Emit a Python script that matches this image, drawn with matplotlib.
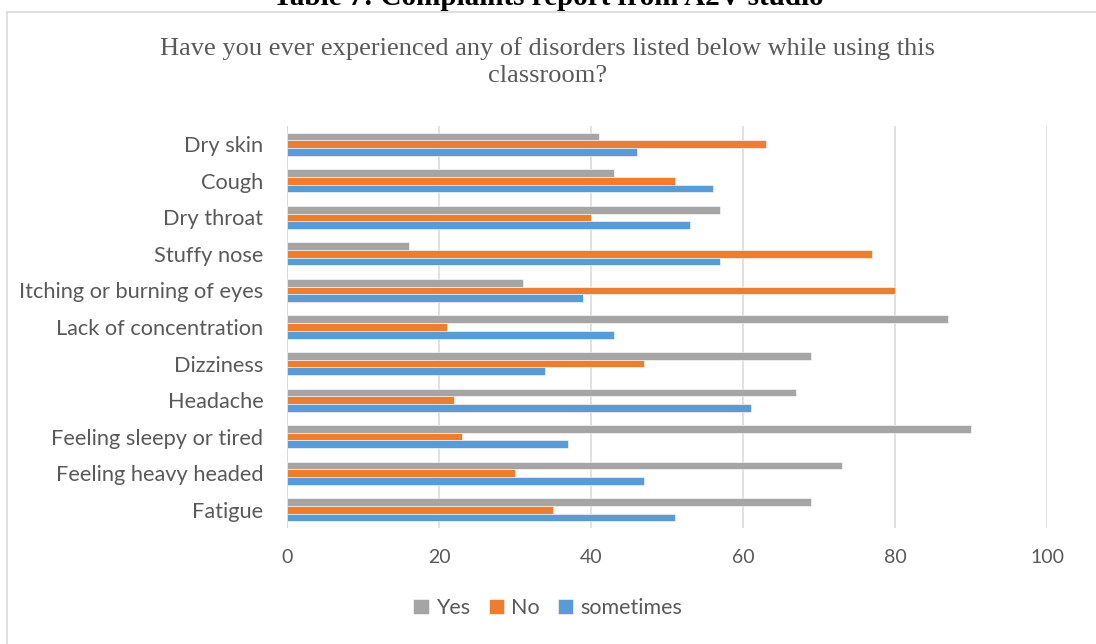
import numpy as np
import matplotlib.pyplot as plt
from matplotlib.patches import Rectangle

symptoms = ['Dry skin', 'Cough', 'Dry throat', 'Stuffy nose', 'Itching or burning of eyes',
            'Lack of concentration', 'Dizziness', 'Headache', 'Feeling sleepy or tired',
            'Feeling heavy headed', 'Fatigue']
yes = [41, 43, 57, 16, 31, 87, 69, 67, 90, 73, 69]
no = [63, 51, 40, 77, 80, 21, 47, 22, 23, 30, 35]
sometimes = [46, 56, 53, 57, 39, 43, 34, 61, 37, 47, 51]

series = [
    (yes, 'Yes', '#A5A5A5'),
    (no, 'No', '#ED7D31'),
    (sometimes, 'sometimes', '#5B9BD5'),
]

label_font = 'Lato'
text_grey = '#595959'

fig = plt.figure(figsize=(10.96, 6.44), dpi=100)

# chart frame and the caption sitting above it
fig.patches.append(Rectangle((7 / 1096, -0.05), 1.1, 1 - 12 / 644 + 0.05,
                             transform=fig.transFigure, fill=False,
                             edgecolor='#D9D9D9', linewidth=1.2))
fig.text(0.5, 1 - 5 / 644, 'Table 7: Complaints report from A2V studio',
         ha='center', va='baseline', family='Liberation Serif', fontsize=21,
         fontweight='bold', color='black')

fig.text(0.5, 1 - 62 / 644, 'Have you ever experienced any of disorders listed below while using this\nclassroom?',
         ha='center', va='center', family='Liberation Serif', fontsize=19,
         color=text_grey, linespacing=1.32)

ax = fig.add_axes([287 / 1096, 1 - 528 / 644, 760 / 1096, 402 / 644])

y = np.arange(len(symptoms))
h = 0.21
for k, (vals, name, col) in enumerate(series):
    ax.barh(y + (k - 1) * h, vals, height=h, color=col, label=name,
            edgecolor='white', linewidth=0.4, zorder=3)

ax.set_xlim(0, 100)
ax.set_ylim(len(symptoms) - 0.5, -0.5)
ax.set_xticks(np.arange(0, 101, 20))
ax.set_yticks(y)
ax.set_yticklabels(symptoms)
ax.grid(axis='x', color='#D9D9D9', linewidth=1.1, zorder=0)
ax.axvline(0, color='#D9D9D9', linewidth=1.3, zorder=1)
for s in ax.spines.values():
    s.set_visible(False)
ax.tick_params(axis='both', length=0, labelcolor=text_grey)
ax.tick_params(axis='x', pad=15, labelsize=14)
ax.tick_params(axis='y', pad=17, labelsize=15.7)
for t in ax.get_xticklabels() + ax.get_yticklabels():
    t.set_family(label_font)

leg = fig.legend(loc='center', bbox_to_anchor=(0.5, 1 - 608 / 644), ncol=3, frameon=False,
                 handlelength=0.7, handleheight=0.7, handletextpad=0.35, columnspacing=0.85,
                 prop={'family': label_font, 'size': 15.5})
for t in leg.get_texts():
    t.set_color(text_grey)

fig.savefig('out.png', dpi=100)
